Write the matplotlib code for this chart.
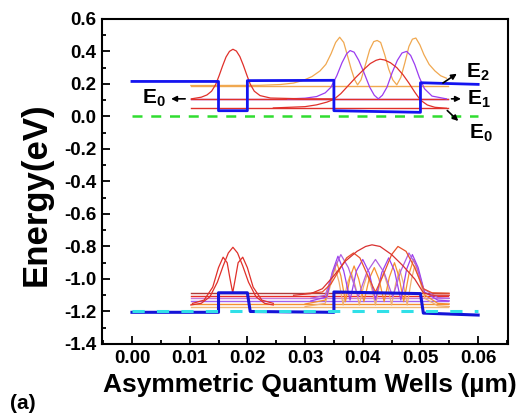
import numpy as np
import matplotlib
matplotlib.use("Agg")
import matplotlib.pyplot as plt
from matplotlib.ticker import MultipleLocator, FormatStrFormatter

plt.rcParams['font.family'] = ['Liberation Sans', 'DejaVu Sans']
plt.rcParams['font.weight'] = 'bold'
plt.rcParams['axes.unicode_minus'] = False
plt.rcParams['mathtext.fontset'] = 'custom'
plt.rcParams['mathtext.rm'] = 'Liberation Sans:bold'
plt.rcParams['mathtext.bf'] = 'Liberation Sans:bold'
plt.rcParams['mathtext.it'] = 'Liberation Sans:bold'

# ---- conduction band (upper) ----
cb_x = [0.0, 0.015, 0.015, 0.020, 0.020, 0.035, 0.035, 0.050, 0.050, 0.060]
cb_e = [0.215, 0.215, 0.035, 0.035, 0.220, 0.222, 0.035, 0.025, 0.207, 0.197]
ref_x = [0.0, 0.060]
cb_ref = [0.0, 0.0]

lvl_x = [0.0102, 0.0548]
cb_levels = [0.190, 0.108, 0.108, 0.050]
cb_level_colors = ['#f0a850', '#9b3cf0', '#e0302a', '#e0302a']

# narrow well E0 (red)
nw_x = [0.0103, 0.0120, 0.0130, 0.0138, 0.0145, 0.0151, 0.0157, 0.0163, 0.0169, 0.0175, 0.0181, 0.0187, 0.0193, 0.0199, 0.0205, 0.0212, 0.0222, 0.0240, 0.030, 0.035]
nw_e = [0.108, 0.118, 0.132, 0.155, 0.195, 0.250, 0.310, 0.365, 0.400, 0.413, 0.402, 0.368, 0.315, 0.255, 0.198, 0.155, 0.128, 0.113, 0.108, 0.108]
# wide well E0 (red)
w0_x = [0.0245, 0.0300, 0.0320, 0.0338, 0.0350, 0.0362, 0.0375, 0.0388, 0.0401, 0.0413, 0.0423, 0.0430, 0.0438, 0.0448, 0.0459, 0.0470, 0.0480, 0.0490, 0.0500, 0.0512, 0.0525, 0.0545]
w0_e = [0.052, 0.060, 0.071, 0.088, 0.105, 0.140, 0.190, 0.240, 0.286, 0.325, 0.345, 0.352, 0.347, 0.330, 0.300, 0.255, 0.205, 0.150, 0.100, 0.070, 0.056, 0.050]
# wide well E1 (purple)
w1_x = [0.0270, 0.0300, 0.0320, 0.0335, 0.0345, 0.0355, 0.0364, 0.0372, 0.0378, 0.0385, 0.0393, 0.0402, 0.0412, 0.0420, 0.0427, 0.0434, 0.0442, 0.0451, 0.0460, 0.0468, 0.0476, 0.0483, 0.0490, 0.0498, 0.0507, 0.0520, 0.0545]
w1_e = [0.108, 0.112, 0.122, 0.145, 0.180, 0.250, 0.330, 0.385, 0.405, 0.395, 0.345, 0.270, 0.180, 0.130, 0.108, 0.130, 0.180, 0.270, 0.345, 0.390, 0.400, 0.375, 0.320, 0.240, 0.170, 0.125, 0.108]
# wide well E2 (orange)
w2_x = [0.0102, 0.0220, 0.0257, 0.0280, 0.0297, 0.0312, 0.0326, 0.0336, 0.0345, 0.0353, 0.0360, 0.0367, 0.0373, 0.0380, 0.0386, 0.0391, 0.0397, 0.0404, 0.0412, 0.0419, 0.0425, 0.0431, 0.0438, 0.0445, 0.0452, 0.0459, 0.0466, 0.0473, 0.0480, 0.0486, 0.0492, 0.0499, 0.0506, 0.0515, 0.0525, 0.0535, 0.0545]
w2_e = [0.190, 0.191, 0.196, 0.205, 0.222, 0.245, 0.280, 0.320, 0.385, 0.455, 0.487, 0.455, 0.380, 0.290, 0.225, 0.194, 0.225, 0.310, 0.410, 0.460, 0.467, 0.455, 0.380, 0.290, 0.225, 0.194, 0.240, 0.330, 0.430, 0.475, 0.482, 0.440, 0.380, 0.320, 0.280, 0.250, 0.235]

# ---- valence band (lower) ----
vb_x = [0.0, 0.015, 0.015, 0.020, 0.0205, 0.035, 0.035, 0.050, 0.0505, 0.060]
vb_e = [-1.205, -1.205, -1.085, -1.085, -1.200, -1.205, -1.08, -1.09, -1.21, -1.222]
vb_ref = [-1.20, -1.20]

vb_levels = [-1.088, -1.103, -1.119, -1.135, -1.154, -1.170]
vb_level_colors = ['#b03a3a', '#e8302a', '#c878d8', '#a060f0', '#f59030', '#f0b878']

# narrow well states (red)
vn1_x = [0.0102, 0.0120, 0.0135, 0.0148, 0.0158, 0.0167, 0.0175, 0.0183, 0.0192, 0.0202, 0.0215, 0.0230, 0.0245]
vn1_e = [-1.16, -1.15, -1.11, -1.02, -0.92, -0.84, -0.805, -0.84, -0.92, -1.02, -1.11, -1.15, -1.16]
vn2_x = [0.0105, 0.0125, 0.0140, 0.0150, 0.0158, 0.0165, 0.0170, 0.01746, 0.0179, 0.0184, 0.0192, 0.0200, 0.0210, 0.0225, 0.0245]
vn2_e = [-1.15, -1.13, -1.05, -0.93, -0.866, -0.90, -1.00, -1.085, -1.00, -0.90, -0.866, -0.93, -1.05, -1.13, -1.15]

# wide well states
va_x = [0.028, 0.031, 0.033, 0.035, 0.037, 0.039, 0.0405, 0.0416, 0.043, 0.045, 0.047, 0.049, 0.0505, 0.052, 0.055]
va_e = [-1.10, -1.09, -1.06, -0.98, -0.89, -0.83, -0.80, -0.79, -0.80, -0.85, -0.92, -1.00, -1.085, -1.10, -1.10]
vb2_x = [0.030, 0.033, 0.0345, 0.036, 0.0372, 0.0384, 0.0395, 0.041, 0.0422, 0.0435, 0.045, 0.0461, 0.0475, 0.049, 0.0505, 0.052, 0.055]
vb2_e = [-1.09, -1.08, -1.03, -0.94, -0.87, -0.84, -0.87, -0.99, -1.08, -0.98, -0.85, -0.80, -0.83, -0.93, -1.06, -1.085, -1.088]
vc_x = [0.031, 0.0335, 0.0348, 0.0362, 0.0375, 0.0392, 0.0407, 0.0422, 0.0437, 0.0452, 0.0466, 0.0480, 0.0493, 0.0505, 0.053, 0.055]
vc_e = [-1.119, -1.10, -0.96, -0.85, -0.93, -1.11, -0.96, -0.88, -0.96, -1.11, -0.95, -0.84, -0.92, -1.06, -1.115, -1.119]
vd_x = [0.031, 0.0338, 0.0347, 0.0357, 0.0367, 0.0378, 0.0389, 0.0400, 0.0411, 0.0422, 0.0433, 0.0445, 0.0455, 0.0466, 0.0476, 0.0486, 0.0496, 0.0507, 0.053, 0.055]
vd_e = [-1.135, -1.11, -0.96, -0.86, -0.95, -1.13, -0.95, -0.88, -0.96, -1.13, -0.96, -0.87, -0.95, -1.13, -0.94, -0.85, -0.93, -1.08, -1.13, -1.135]
ve_x = [0.030, 0.0335, 0.0345, 0.0355, 0.0362, 0.0370, 0.0378, 0.0385, 0.0393, 0.0402, 0.0411, 0.0420, 0.0428, 0.0437, 0.0446, 0.0455, 0.0463, 0.0471, 0.0480, 0.0488, 0.0497, 0.0508, 0.053, 0.055]
ve_e = [-1.154, -1.13, -1.00, -0.90, -0.98, -1.14, -0.99, -0.92, -1.00, -1.14, -1.00, -0.93, -1.00, -1.14, -0.99, -0.90, -0.99, -1.14, -0.97, -0.88, -0.96, -1.10, -1.15, -1.154]
vf_x = [0.030, 0.0335, 0.0344, 0.0352, 0.0359, 0.0366, 0.0373, 0.0380, 0.0387, 0.0394, 0.0401, 0.0408, 0.0415, 0.0422, 0.0429, 0.0436, 0.0443, 0.0450, 0.0457, 0.0464, 0.0470, 0.0477, 0.0484, 0.0490, 0.0498, 0.0508, 0.053, 0.055]
vf_e = [-1.17, -1.15, -1.04, -0.93, -1.02, -1.16, -1.03, -0.96, -1.04, -1.16, -1.05, -0.97, -1.05, -1.16, -1.04, -0.96, -1.04, -1.16, -1.03, -0.94, -1.02, -1.16, -1.01, -0.92, -1.00, -1.12, -1.165, -1.17]

fig = plt.figure(figsize=(5.31, 4.19), dpi=100)
ax = fig.add_axes([0.192, 0.179, 0.765, 0.776])

# level lines
for e, c in zip(cb_levels, cb_level_colors):
    ax.plot(lvl_x, [e, e], color=c, lw=1.0)
for e, c in zip(vb_levels, vb_level_colors):
    ax.plot(lvl_x, [e, e], color=c, lw=1.0)

# wavefunctions upper
ax.plot(w2_x, w2_e, color='#f0a850', lw=0.9)
ax.plot(w1_x, w1_e, color='#9b3cf0', lw=0.9)
ax.plot(w0_x, w0_e, color='#e0302a', lw=0.9)
ax.plot(nw_x, nw_e, color='#e0302a', lw=0.9)

# wavefunctions lower
ax.plot(vf_x, vf_e, color='#f0b070', lw=0.9)
ax.plot(ve_x, ve_e, color='#f59030', lw=0.9)
ax.plot(vd_x, vd_e, color='#9b40f0', lw=0.9)
ax.plot(vc_x, vc_e, color='#b060e0', lw=0.9)
ax.plot(vb2_x, vb2_e, color='#e8502a', lw=0.9)
ax.plot(va_x, va_e, color='#d83030', lw=0.9)
ax.plot(vn1_x, vn1_e, color='#e0302a', lw=0.9)
ax.plot(vn2_x, vn2_e, color='#e0302a', lw=0.9)

# band edges
ax.plot(ref_x, cb_ref, color='#30dd30', lw=1.8, dashes=(4, 3.5))
ax.plot(cb_x, cb_e, color='#1414f0', lw=2.0)
ax.plot(vb_x, vb_e, color='#1414d8', lw=2.2)
ax.plot(ref_x, vb_ref, color='#30e0e8', lw=2.2, dashes=(4, 4))

# labels on the levels
ap = dict(arrowstyle='-|>', color='black', lw=1.2, mutation_scale=8)
ax.annotate('', xy=(0.0063, 0.108), xytext=(0.0097, 0.108), arrowprops=ap)
ax.text(0.0038, 0.108, r'$\mathbf{E_0}$', fontsize=15, ha='center', va='center')
ax.annotate('', xy=(0.0575, 0.108), xytext=(0.0549, 0.108), arrowprops=ap)
ax.text(0.0602, 0.103, r'$\mathbf{E_1}$', fontsize=15, ha='center', va='center')
ax.annotate('', xy=(0.0567, 0.272), xytext=(0.0535, 0.196), arrowprops=ap)
ax.text(0.0600, 0.268, r'$\mathbf{E_2}$', fontsize=15, ha='center', va='center')
ax.annotate('', xy=(0.0569, -0.040), xytext=(0.0543, 0.048), arrowprops=ap)
ax.text(0.0604, -0.105, r'$\mathbf{E_0}$', fontsize=15, ha='center', va='center')

ax.set_xlim(-0.0052, 0.0652)
ax.set_ylim(-1.4, 0.6)
ax.xaxis.set_major_locator(MultipleLocator(0.01))
ax.xaxis.set_minor_locator(MultipleLocator(0.005))
ax.yaxis.set_major_locator(MultipleLocator(0.2))
ax.yaxis.set_minor_locator(MultipleLocator(0.1))
ax.xaxis.set_major_formatter(FormatStrFormatter('%.2f'))
ax.yaxis.set_major_formatter(FormatStrFormatter('%.1f'))
ax.tick_params(which='both', direction='in', width=1.3, labelsize=13.5, top=False, right=False)
ax.tick_params(which='major', length=6, pad=4)
ax.tick_params(which='minor', length=3)
for lab in ax.get_xticklabels() + ax.get_yticklabels():
    lab.set_fontweight('bold')
for s in ax.spines.values():
    s.set_linewidth(1.5)

fig.text(0.584, 0.080, 'Asymmetric Quantum Wells (\u00b5m)', fontsize=19, fontweight='bold', ha='center', va='center')
fig.text(0.068, 0.537, 'Energy(eV)', fontsize=25, fontweight='bold', ha='center', va='center', rotation=90)
fig.text(0.018, 0.025, '(a)', fontsize=15, fontweight='bold')

fig.savefig('out.png', dpi=100)
